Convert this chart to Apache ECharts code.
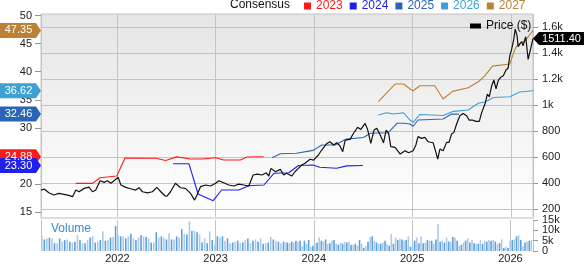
<!DOCTYPE html>
<html><head><meta charset="utf-8">
<script src="https://cdn.jsdelivr.net/npm/echarts@6/dist/echarts.min.js"></script>
<style>html,body{margin:0;padding:0;background:#fff}#c{width:584px;height:264px}</style>
</head><body><div id="c"></div>
<script>
const xMin = '2021-03-26';
const xMax = '2026-03-23';
const leftTicks = [15,20,25,30,35,40,45,50];
const rightTicks = [200,400,600,800,1000,1200,1400,1600];
const volumeTicksA = [0,10];
const volumeTicksB = [5,15];
const seriesNames = ['2023','2024','2025','2026','2027'];
const seriesColors = ['#ff1a1a','#1f1fee','#2a65b5','#3fa0d2','#b98235'];

const priceData = [['2021-03-26',345],['2021-04-07',353],['2021-04-24',324],['2021-05-13',307],['2021-05-31',320],['2021-06-19',312],['2021-07-07',304],['2021-07-21',294],['2021-08-02',345],['2021-08-14',332],['2021-09-02',358],['2021-09-20',368],['2021-10-03',332],['2021-10-15',345],['2021-10-31',417],['2021-11-15',404],['2021-11-27',417],['2021-12-10',397],['2021-12-25',422],['2022-01-06',443],['2022-01-16',384],['2022-02-03',366],['2022-02-21',355],['2022-03-12',345],['2022-03-24',363],['2022-04-06',332],['2022-04-24',324],['2022-05-13',332],['2022-05-29',366],['2022-06-13',332],['2022-06-28',301],['2022-07-06',299],['2022-07-19',332],['2022-08-06',397],['2022-08-25',363],['2022-09-12',358],['2022-10-01',320],['2022-10-16',268],['2022-10-25',307],['2022-11-07',371],['2022-11-26',384],['2022-12-14',376],['2023-01-02',397],['2023-01-14',417],['2023-02-01',401],['2023-02-20',384],['2023-03-10',376],['2023-03-29',391],['2023-04-16',384],['2023-05-05',376],['2023-05-21',461],['2023-06-05',468],['2023-06-23',461],['2023-07-09',478],['2023-07-18',453],['2023-07-26',512],['2023-08-12',486],['2023-08-30',504],['2023-09-11',461],['2023-09-22',474],['2023-10-11',453],['2023-10-23',486],['2023-11-05',512],['2023-11-17',538],['2023-11-29',551],['2023-12-18',582],['2023-12-31',576],['2024-01-18',615],['2024-01-30',653],['2024-02-18',704],['2024-03-01',717],['2024-03-14',692],['2024-03-26',709],['2024-04-07',684],['2024-04-17',640],['2024-04-26',730],['2024-05-14',735],['2024-05-27',782],['2024-06-11',828],['2024-06-23',812],['2024-07-09',858],['2024-07-18',812],['2024-07-30',704],['2024-08-11',807],['2024-08-21',820],['2024-08-31',782],['2024-09-15',709],['2024-09-25',807],['2024-10-04',782],['2024-10-12',679],['2024-10-28',674],['2024-11-16',622],['2024-12-04',648],['2024-12-17',632],['2025-01-03',648],['2025-01-13',692],['2025-01-21',756],['2025-02-03',743],['2025-02-15',751],['2025-02-27',717],['2025-03-18',709],['2025-03-24',666],['2025-04-04',584],['2025-04-12',661],['2025-04-24',648],['2025-05-07',712],['2025-05-16',712],['2025-05-25',776],['2025-06-03',789],['2025-06-13',853],['2025-06-25',917],['2025-07-07',935],['2025-07-20',917],['2025-07-29',884],['2025-08-11',884],['2025-08-23',874],['2025-09-05',874],['2025-09-14',943],['2025-09-26',1007],['2025-10-05',1084],['2025-10-12',1063],['2025-10-21',1148],['2025-10-29',1192],['2025-11-06',1123],['2025-11-14',1187],['2025-11-23',1213],['2025-12-03',1225],['2025-12-13',1269],['2025-12-21',1284],['2025-12-27',1379],['2026-01-03',1430],['2026-01-11',1508],['2026-01-16',1584],['2026-01-23',1533],['2026-01-27',1448],['2026-02-02',1469],['2026-02-09',1487],['2026-02-14',1456],['2026-02-24',1525],['2026-03-05',1351],['2026-03-14',1430],['2026-03-23',1511.4]];

const eps2023 = [['2021-08-02',20.14],['2021-10-03',20.14],['2021-10-31',21.14],['2022-01-01',21.44],['2022-01-31',24.64],['2022-05-25',24.59],['2022-07-01',24.2],['2022-08-10',24.85],['2022-10-01',24.47],['2022-11-13',24.47],['2023-01-02',24.7],['2023-02-01',24.29],['2023-04-04',24.29],['2023-04-28',24.82],['2023-06-29',24.88]];
const eps2024 = [['2022-07-28',23.63],['2022-09-25',23.63],['2022-10-29',18.24],['2022-12-24',17.05],['2023-01-24',18.95],['2023-03-29',18.95],['2023-05-05',19.72],['2023-06-30',19.84],['2023-08-06',21.92],['2023-09-30',22.03],['2023-11-05',23.3],['2023-12-29',23.4],['2024-01-23',22.99],['2024-03-25',22.81],['2024-05-02',23.25],['2024-07-01',23.30]];
const eps2025 = [['2023-07-30',24.7],['2023-08-30',25.41],['2023-10-28',25.48],['2023-12-30',26.0],['2024-01-30',26.96],['2024-03-19',26.96],['2024-04-29',28.0],['2024-07-03',28.3],['2024-07-28',29.04],['2024-10-03',29.15],['2024-11-04',30.82],['2024-11-30',30.82],['2024-12-22',30.7],['2025-01-03',30.3],['2025-01-21',31.41],['2025-04-24',31.58],['2025-05-25',32.46],['2025-06-22',32.46]];
const eps2026 = [['2024-08-27',32.3],['2024-09-27',32.7],['2024-10-22',32.47],['2024-11-29',32.7],['2024-12-22',31.4],['2025-01-03',31.0],['2025-01-28',32.4],['2025-04-24',32.2],['2025-06-01',32.95],['2025-07-26',33.2],['2025-09-01',34.4],['2025-09-26',34.6],['2025-10-27',35.4],['2025-12-27',35.55],['2026-02-02',36.4],['2026-03-23',36.62]];
const eps2027 = [['2024-08-27',34.66],['2024-10-28',37.81],['2024-11-29',37.81],['2024-12-26',36.8],['2025-01-03',36.62],['2025-01-28',37.51],['2025-03-24',37.51],['2025-04-24',35.14],['2025-05-29',36.5],['2025-07-26',37.15],['2025-09-04',38.3],['2025-09-26',39.3],['2025-10-24',41.0],['2025-12-27',41.37],['2026-01-16',44.1],['2026-01-27',44.9],['2026-02-22',45.5],['2026-03-23',47.35]];

// weekly volume (thousands), two spans
const volumeAStart = '2021-03-26', volumeAEnd = '2023-09-20';
const volumeA = [7.6,5.6,6.1,6.5,6.1,3.8,3.8,6.1,4.5,5.3,5.6,4.5,4.1,4.5,7.6,5.3,3.8,3.8,5.3,6.5,7.1,4.1,4.5,5.3,9.5,5.0,5.3,6.5,6.8,12.1,7.6,7.1,7.1,6.1,7.1,8.3,6.1,5.3,6.5,7.6,7.1,6.8,6.1,4.1,4.1,9.1,6.5,7.1,6.5,5.6,8.6,5.6,5.6,7.1,6.5,10.6,8.3,8.0,14.4,9.8,9.8,9.1,8.0,4.1,6.1,3.8,9.5,5.3,3.0,7.1,6.5,7.1,5.0,6.1,3.8,4.1,4.5,5.0,3.8,4.1,5.3,6.1,3.8,5.0,5.6,4.5,6.1,3.5,3.8,4.1,6.8,5.6,5.0,4.5,3.8,4.5,4.1];
const volumeBStart = '2023-09-25', volumeBEnd = '2026-03-20';
const volumeB = [4.1,3.8,4.5,4.1,5.0,4.5,5.0,2.3,5.0,3.5,5.3,2.0,2.6,3.8,4.1,6.5,5.0,4.5,5.6,3.5,3.8,5.0,5.3,3.5,3.0,4.1,3.5,4.5,4.1,4.5,3.0,3.0,3.5,2.6,5.3,3.5,1.5,2.6,4.5,6.8,7.1,5.0,4.1,3.5,3.5,4.1,5.0,3.5,2.6,8.3,3.5,6.5,5.3,6.1,5.6,5.0,5.3,7.1,2.0,3.5,5.0,6.5,3.8,7.1,3.8,4.1,5.3,5.0,5.0,3.5,5.6,12.9,4.5,5.0,4.1,6.5,4.5,4.5,6.8,6.5,5.0,2.6,3.0,4.1,5.0,6.1,4.1,5.3,3.8,3.5,3.5,5.3,3.5,5.0,4.5,5.3,5.0,5.3,4.5,3.5,3.8,5.6,1.5,2.0,1.5,5.0,5.3,5.6,7.1,7.6,5.3,2.3,4.1,4.5,5.0,5.3];

const FONT = 'Liberation Sans, Arial, sans-serif';
const P = v => +echarts.time.parse(v);
const YEAR = 365 * 24 * 3600 * 1000;

function spread(vals, s, e) {
  const a = P(s), b = P(e), step = (b - a) / (vals.length - 1);
  return vals.map((v, i) => [a + i * step, v]);
}
const volData = spread(volumeA, volumeAStart, volumeAEnd).concat(spread(volumeB, volumeBStart, volumeBEnd));

const flagRight = 'path://M0,0L36,0L41,7.5L36,15L0,15Z';
const flagLeft = 'path://M6,0L51,0L51,13L6,13L0,6.5Z';

const epsArrays = [eps2023, eps2024, eps2025, eps2026, eps2027];
const epsSeries = epsArrays.map((arr, i) => {
  const last = arr[arr.length - 1][1];
  return {
    name: seriesNames[i], type: 'line', xAxisIndex: 0, yAxisIndex: 0,
    data: arr, showSymbol: false, symbol: 'none',
    color: seriesColors[i],
    lineStyle: { color: seriesColors[i], width: 1.1 },
    itemStyle: { color: seriesColors[i] },
    z: 3 + i,
    markPoint: {
      silent: true, animation: false,
      symbol: flagRight, symbolSize: [41, 15], symbolOffset: [-20.5, 0],
      itemStyle: { color: seriesColors[i] },
      label: { show: true, position: 'inside', color: '#fff', fontSize: 11, fontFamily: FONT, offset: [-2, 0],
        formatter: p => p.value.toFixed(2) },
      data: [{ coord: [P(xMin), last], value: last }]
    }
  };
});

const volAxis = ticks => ({
  type: 'value', gridIndex: 1, position: 'right', min: 0, max: 15,
  axisLine: { show: false },
  axisTick: { show: true, length: 5, customValues: ticks, lineStyle: { color: '#999' } },
  axisLabel: { customValues: ticks, fontSize: 11, color: '#222', margin: 9, hideOverlap: false,
    showMinLabel: true, showMaxLabel: true,
    formatter: v => v === 0 ? '0' : v + 'k' },
  splitLine: { show: false }
});

const lastPrice = priceData[priceData.length - 1][1];
const timeAxisBase = { type: 'time', min: xMin, max: xMax, minInterval: YEAR, maxInterval: YEAR * 1.01, splitNumber: 5 };
const chart = echarts.init(document.getElementById('c'), null, { renderer: 'canvas' });
chart.setOption({
  animation: false,
  textStyle: { fontFamily: FONT },
  title: [
    { text: 'Consensus', left: 230, top: -1, padding: 0, textStyle: { fontSize: 12, fontWeight: 'normal', color: '#111', fontFamily: FONT } },
    { text: 'Volume', left: 51, top: 223, padding: 0, textStyle: { fontSize: 12, fontWeight: 'normal', color: '#3a8ad0', fontFamily: FONT } }
  ],
  legend: [
    { left: 304, top: 0, padding: 0, icon: 'rect', itemWidth: 7, itemHeight: 7, itemGap: 7,
      textStyle: { fontSize: 12, fontFamily: FONT },
      data: seriesNames.map((n, i) => ({ name: n, textStyle: { color: seriesColors[i] } })) },
    { left: 470, top: 20, padding: 0, icon: 'rect', itemWidth: 11, itemHeight: 5,
      textStyle: { fontSize: 12, color: '#111', fontFamily: FONT }, data: ['Price ($)'] }
  ],
  grid: [
    { left: 41, right: 51, top: 14, height: 204, show: true, borderColor: '#c4c4c4', borderWidth: 1,
      backgroundColor: new echarts.graphic.LinearGradient(0, 0, 0, 1, [{ offset: 0, color: '#e5e5e5' }, { offset: 1, color: '#ffffff' }]) },
    { left: 41, right: 51, top: 220, height: 33, show: true, borderWidth: 0, backgroundColor: '#ffffff' }
  ],
  xAxis: [
    Object.assign({ gridIndex: 0,
      axisLabel: { show: false }, axisTick: { show: false },
      axisLine: { show: true, lineStyle: { color: '#dedede', width: 2 } },
      splitLine: { show: true, lineStyle: { color: '#c4c4c4', width: 1 } } }, timeAxisBase),
    Object.assign({ gridIndex: 1,
      axisLabel: { show: true, fontSize: 11, color: '#222', margin: 2, formatter: '{yyyy}',
        showMinLabel: false, showMaxLabel: false },
      axisTick: { show: false },
      axisLine: { show: false },
      splitLine: { show: true, lineStyle: { color: '#c4c4c4', width: 1 } } }, timeAxisBase)
  ],
  yAxis: [
    { type: 'value', gridIndex: 0, position: 'left', min: 13.97, max: 50.27,
      axisLine: { show: false },
      axisTick: { show: true, length: 6, customValues: leftTicks, lineStyle: { color: '#999' } },
      axisLabel: { customValues: leftTicks, fontSize: 11, color: '#222', margin: 9 },
      splitLine: { show: false } },
    { type: 'value', gridIndex: 0, position: 'right', min: 130, max: 1700,
      axisLine: { show: false },
      axisTick: { show: true, length: 5, customValues: rightTicks, lineStyle: { color: '#999' } },
      axisLabel: { customValues: rightTicks, fontSize: 11, color: '#222', margin: 9,
        formatter: v => v >= 1000 ? (v / 1000) + 'k' : String(v) },
      splitLine: { show: true, lineStyle: { color: '#c4c4c4', width: 1 } } },
    volAxis(volumeTicksA),
    volAxis(volumeTicksB)
  ],
  series: epsSeries.concat([
    { name: 'Volume', type: 'bar', xAxisIndex: 1, yAxisIndex: 2, data: volData, barWidth: 1.6,
      itemStyle: { color: p => (p.dataIndex % 2 ? '#5f9fd8' : '#a9cbeb') } },
    { name: 'Price ($)', type: 'line', xAxisIndex: 0, yAxisIndex: 1, data: priceData,
      showSymbol: false, symbol: 'none', color: '#000', z: 10,
      lineStyle: { color: '#111', width: 1.2 }, itemStyle: { color: '#000' },
      markPoint: {
        silent: true, animation: false,
        symbol: flagLeft, symbolSize: [51, 13], symbolOffset: [25.5, 0],
        itemStyle: { color: '#000' },
        label: { show: true, position: 'inside', color: '#fff', fontSize: 11, fontFamily: FONT, offset: [3, 0],
          formatter: p => p.value.toFixed(2) },
        data: [{ coord: [P(xMax), lastPrice], value: lastPrice }]
      } }
  ])
});
</script>
</body></html>
